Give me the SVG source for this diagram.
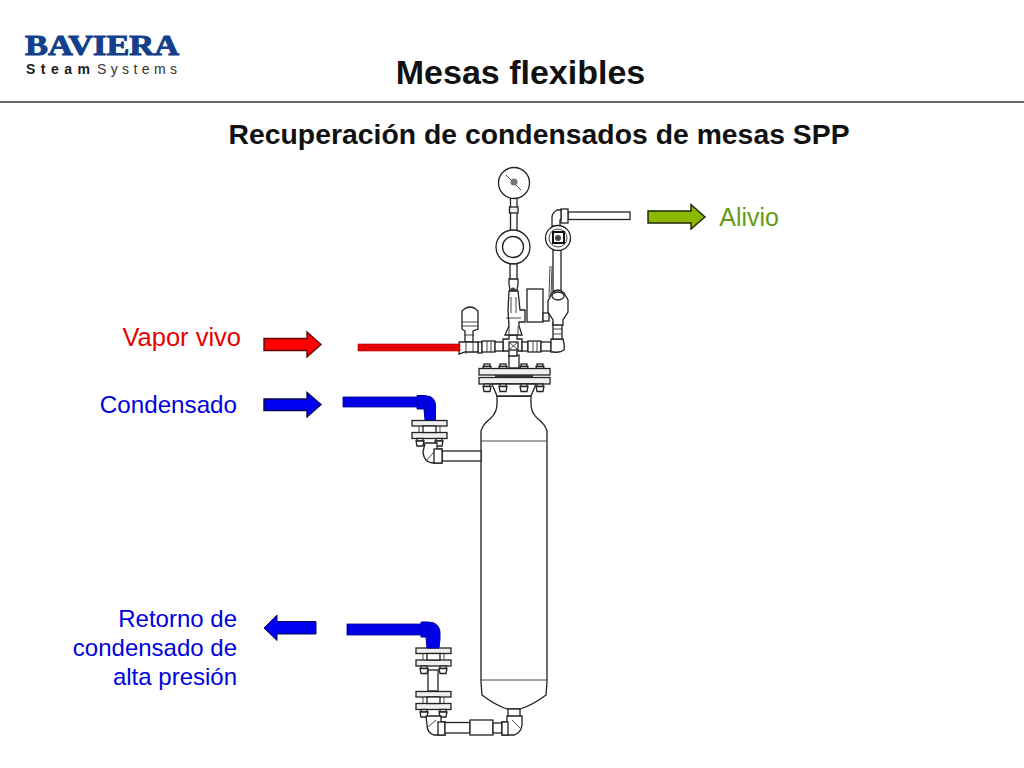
<svg xmlns="http://www.w3.org/2000/svg" width="1024" height="768" viewBox="0 0 1024 768">
<style>
text{font-family:"Liberation Sans",Arial,sans-serif}
.l{fill:#fff;stroke:#222;stroke-width:1.300}
.g{fill:#efefef;stroke:#222;stroke-width:1.300}
.t{fill:none;stroke:#333;stroke-width:.9}
.b{fill:#0000e6;stroke:#00008a;stroke-width:.8}
.f{fill:#0000e6;stroke:#0000a0;stroke-width:1}
.lab{font-size:24px;text-anchor:end}
.blue{fill:#0000e0}
</style>
<defs>
<g id="bolt"><rect class="l" x="-3" y="0" width="6" height="2.500"/><path class="l" d="M-4 2.500H4L3 7.500H-3Z"/></g>
<g id="flange"><rect class="g" x="416" y="0" width="35" height="5.500"/><rect class="g" x="416" y="12" width="35" height="6"/><path class="t" d="M423 5.500V12M444 5.500V12"/><rect class="l" x="427" y="5.500" width="13" height="6.500"/><use href="#bolt" x="424" y="18"/><use href="#bolt" x="443" y="18"/></g>
</defs>
<rect width="1024" height="768" fill="#fff"/>
<g id="header">
<g id="logo">
<text x="25" y="55" font-size="29" font-weight="700" fill="#12408a" stroke="#12408a" stroke-width="1" style="font-family:'Liberation Serif',serif" textLength="154" lengthAdjust="spacingAndGlyphs">BAVIERA</text>
<text x="26" y="74" font-size="14" font-weight="700" fill="#1a1a1a" textLength="64">Steam</text>
<text x="97" y="74" font-size="14" fill="#333" textLength="80">Systems</text>
</g>
<line x1="0" y1="102" x2="1024" y2="102" stroke="#333" stroke-width="1.500"/>
<text id="title" x="520.500" y="84" font-size="34" font-weight="700" text-anchor="middle" fill="#111">Mesas flexibles</text>
<text id="subtitle" x="539" y="144" font-size="28.300" font-weight="700" text-anchor="middle" fill="#111" textLength="621">Recuperación de condensados de mesas SPP</text>
</g>
<g id="vessel">
<path class="l" d="M497 396V404Q497 412 491 418Q483 424 481 431V682L482 695Q495 705 507 709H520Q533 705 546 695L547 682V431Q545 424 537 418Q531 412 531 404V396Z"/>
<path class="t" d="M481 441H547M481 680H547M497 396H531"/>
<rect class="l" x="508" y="709" width="12" height="8"/>
</g>
<g id="top-flange">
<rect class="l" x="509" y="355" width="10" height="13"/>
<use href="#bolt" x="487" y="364"/><use href="#bolt" x="503" y="364"/><use href="#bolt" x="524" y="364"/><use href="#bolt" x="540" y="364"/>
<rect class="g" x="479" y="368.500" width="71" height="6.500"/>
<rect class="g" x="479" y="377.500" width="71" height="6.500"/>
<rect x="495" y="375" width="38" height="2.500" fill="#333"/>
<path class="l" d="M492 384H536L531 396H497Z"/>
<use href="#bolt" x="487" y="384"/><use href="#bolt" x="503" y="384"/><use href="#bolt" x="524" y="384"/><use href="#bolt" x="540" y="384"/>
</g>
<g id="manifold">
<path class="l" d="M503 339H509V335H517V339H522V351H517V356H509V351H503Z"/>
<rect class="l" x="509" y="342" width="9" height="8"/>
<path class="t" d="M509 342L518 350M518 342L509 350"/>
<rect class="l" x="478" y="342" width="4" height="11"/>
<rect class="l" x="482" y="341" width="13" height="11"/>
<rect class="l" x="495" y="342" width="8" height="9"/>
<path class="t" d="M487 341V352M491 341V352"/>
<rect class="l" x="522" y="342" width="6" height="9"/>
<rect class="l" x="528" y="341" width="13" height="11"/>
<path class="t" d="M533 341V352M537 341V352"/>
<rect class="l" x="541" y="342" width="10" height="9"/>
<path class="l" d="M551 339H563Q565 347 564 350Q560 353 554 352H551Z"/>
<rect class="l" x="553" y="322" width="9" height="17"/>
<path class="t" d="M553 329H562M553 334H562"/>
</g>
<g id="trap">
<path class="l" d="M462 311Q470 303 478 311V329L473 331V342H465V331L462 329Z"/>
<path class="t" d="M462 322H478M462 326H478M464 335H474"/>
<path class="l" d="M459 342H470L478 342V352H465L459 354Z"/>
<path class="t" d="M466 342V354M473 342V352"/>
</g>
<g id="gauge">
<rect class="l" x="510.500" y="198" width="6.500" height="34"/>
<rect class="g" x="509.500" y="207" width="8.500" height="6"/>
<circle class="l" cx="514" cy="183" r="15.500" stroke-width="1.500"/>
<path class="t" d="M506 175L521 190"/>
<circle cx="514" cy="182" r="3.500" fill="#777"/>
<circle class="l" cx="513" cy="247" r="17"/>
<circle class="l" cx="513" cy="247" r="10.500"/>
<rect class="l" x="510" y="264" width="7" height="16"/>
<path class="l" d="M509 279H518V284L517 290H510L509 284Z"/>
<circle cx="513" cy="290" r="2.500" fill="#444"/>
<path class="l" d="M509 291H518L520 310H525V322H519V326L522 335H505L509 326L508 310Z"/>
<path class="t" d="M511 297V313M516 297V313M506 318H521M509 326V335M518 326V335"/>
</g>
<g id="box"><rect class="l" x="527" y="289" width="16" height="33"/><rect class="l" x="543" y="313" width="6" height="8"/></g>
<g id="relief">
<rect class="l" x="568" y="212" width="62" height="7.500"/>
<rect class="l" x="561" y="209" width="7" height="14"/>
<path class="l" d="M561 210H557Q552 213 552 217V226H560V220L561 219Z"/>
<rect class="l" x="553" y="250" width="8" height="41"/>
<path class="t" d="M550 266L549 297M552 266L551 297"/>
<circle class="l" cx="558" cy="238" r="12.500"/>
<circle class="t" cx="558" cy="238" r="9"/>
<rect x="553" y="232" width="11" height="11" fill="none" stroke="#111" stroke-width="2"/>
<circle cx="558" cy="238" r="3" fill="#444"/>
<path class="l" d="M552 293Q558 287 564 293L568 300V312L563 320V325H553V320L548 312V301Z"/>
<ellipse class="l" cx="558" cy="296" rx="6" ry="4"/>
</g>
<g id="upper-connection">
<use href="#flange" x="-4" y="420.500"/>
<rect class="l" x="442" y="451" width="39" height="10"/>
<path class="l" d="M425 443H437V449H442V463H434Q424 463 423 452Z"/>
<rect class="l" x="434" y="449" width="8" height="14"/>
<path class="t" d="M426 461L434 452"/>
</g>
<g id="lower-connection">
<use href="#flange" y="648"/>
<rect class="l" x="428" y="670" width="10" height="21"/>
<use href="#flange" y="691.500"/>
<path class="l" d="M426 716H441V722H445V735H434Q427 733 427 725Z"/>
<rect class="l" x="438" y="722" width="7" height="13"/>
<path class="t" d="M428 727L436 720"/>
<rect class="l" x="445" y="722.500" width="25" height="10.500"/>
<rect class="l" x="470" y="720" width="23" height="15"/>
<rect class="l" x="493" y="723" width="9" height="10"/>
<path class="l" d="M507 716H522V725Q521 733 514 735H502V722H507Z"/>
<rect class="l" x="502" y="722" width="6" height="13"/>
<path class="t" d="M512 720L520 728"/>
</g>
<g id="connectors">
<rect x="358" y="344" width="102" height="7" fill="#e60000" stroke="#b00000" stroke-width=".6"/>
<rect class="b" x="343" y="397" width="75" height="10"/>
<path class="f" d="M417 395.500H424L430 396.500Q436 399 435.500 407V420H425L424 409H417Z"/>
<path d="M424 399V409L428 412" fill="none" stroke="#0000a0"/>
<rect class="b" x="347" y="624" width="75" height="11"/>
<path class="f" d="M421 622H428L434 623Q440 626 440 633V639L439 648H427L426 637H421Z"/>
<path d="M428 624V636L432 639" fill="none" stroke="#0000a0"/>
<path d="M264 338.500H307V332L321 344.500L307 357V350.500H264Z" fill="#f00" stroke="#5a0808" stroke-width="1.400"/>
<path d="M264 399H307V392.500L321 404.500L307 417V410.500H264Z" fill="#0000f0" stroke="#0a0a50" stroke-width="1.400"/>
<path d="M648 211H691V204.500L705 217L691 229V223H648Z" fill="#8cb800" stroke="#1c2400" stroke-width="1.400"/>
<path d="M316 621.500H277V615L264 628L277 640.500V634H316Z" fill="#0000f0" stroke="#0a0a50" stroke-width="1"/>
</g>
<g id="labels">
<text class="lab" x="241" y="346" fill="#e60000" style="font-size:25.500px">Vapor vivo</text>
<text class="lab blue" x="237" y="413" style="font-size:24.200px">Condensado</text>
<text class="lab" x="779" y="226" fill="#669a14" style="font-size:25px">Alivio</text>
<text class="lab blue" x="237" y="627">Retorno de</text>
<text class="lab blue" x="237" y="656">condensado de</text>
<text class="lab blue" x="237" y="685">alta presión</text>
</g>
</svg>
